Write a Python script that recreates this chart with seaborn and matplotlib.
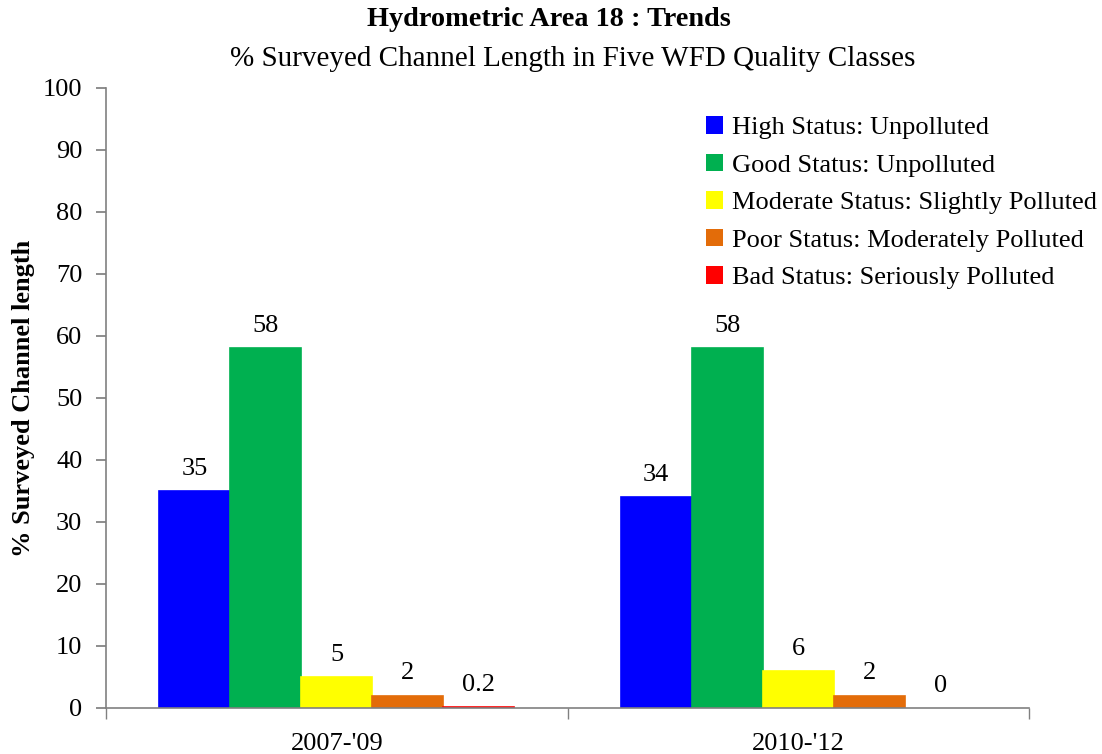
import matplotlib
matplotlib.use("Agg")
import matplotlib.pyplot as plt
import seaborn as sns
import pandas as pd
from matplotlib.patches import Patch

periods = ["2007-'09", "2010-'12"]
classes = ["High Status: Unpolluted", "Good Status: Unpolluted",
           "Moderate Status: Slightly Polluted", "Poor Status: Moderately Polluted",
           "Bad Status: Seriously Polluted"]
vals_2007 = [35, 58, 5, 2, 0.2]
vals_2010 = [34, 58, 6, 2, 0]
colors = ["#0000FF", "#00B050", "#FFFF00", "#E36C09", "#FF0000"]

rows = []
for p, vals in zip(periods, [vals_2007, vals_2010]):
    for c, v in zip(classes, vals):
        rows.append({"period": p, "cls": c, "value": v})
df = pd.DataFrame(rows)

sns.set_theme(style="white")
plt.rcParams['font.family'] = ['Liberation Serif', 'DejaVu Serif']
plt.rcParams['text.color'] = 'black'
plt.rcParams['axes.labelcolor'] = 'black'
plt.rcParams['xtick.color'] = 'black'
plt.rcParams['ytick.color'] = 'black'

fig = plt.figure(figsize=(11.02, 7.54), dpi=100)
ax = fig.add_axes([106/1102, 1-708/754, (1029-106)/1102, (708-88)/754])

sns.barplot(data=df, x="period", y="value", hue="cls", hue_order=classes,
            order=periods, palette=colors, width=0.77, gap=0, linewidth=0,
            saturation=1, ax=ax, legend=False)

for cont in ax.containers:
    for b in cont:
        if b.get_height() > 0:
            b.set_edgecolor(b.get_facecolor())
            b.set_linewidth(1.2)
            b.set_joinstyle('miter')
    labels = ["%g" % b.get_height() for b in cont]
    ax.bar_label(cont, labels=labels, padding=8, fontsize=19, color='black')

ax.set_xlim(-0.5, 1.5)
ax.set_ylim(0, 100)
ax.set_yticks(range(0, 101, 10))
ax.tick_params(axis='y', labelsize=19, length=7, color='#808080', labelcolor='black',
               direction='out', left=True, pad=10)
ax.tick_params(axis='x', which='major', labelsize=19, length=0, pad=18, labelcolor='black')
ax.set_xticks([-0.5, 0.5, 1.5], minor=True)
ax.tick_params(axis='x', which='minor', length=8, color='#808080', direction='out', bottom=True)
for s in ['top', 'right']:
    ax.spines[s].set_visible(False)
for s in ['left', 'bottom']:
    ax.spines[s].set_color('#808080')
    ax.spines[s].set_linewidth(1.2)
    ax.spines[s].set_zorder(5)
ax.set_xlabel("")
ax.set_ylabel("% Surveyed Channel length", fontsize=19, fontweight='bold', labelpad=6)

fig.text(549/1102, 1-19/754, "Hydrometric Area 18 : Trends", ha='center', va='center',
         fontsize=20.3, fontweight='bold')
fig.text(573/1102, 1-59/754, "% Surveyed Channel Length in Five WFD Quality Classes",
         ha='center', va='center', fontsize=21)

handles = [Patch(facecolor=c, edgecolor='none') for c in colors]
fig.legend(handles, classes, loc='upper left', bbox_to_anchor=(706/1102, 1-116/754),
           frameon=False, fontsize=19, handlelength=0.65, handleheight=0.65,
           handletextpad=0.35, labelspacing=0.55, borderaxespad=0, borderpad=0)

fig.savefig("out.png", dpi=100)
